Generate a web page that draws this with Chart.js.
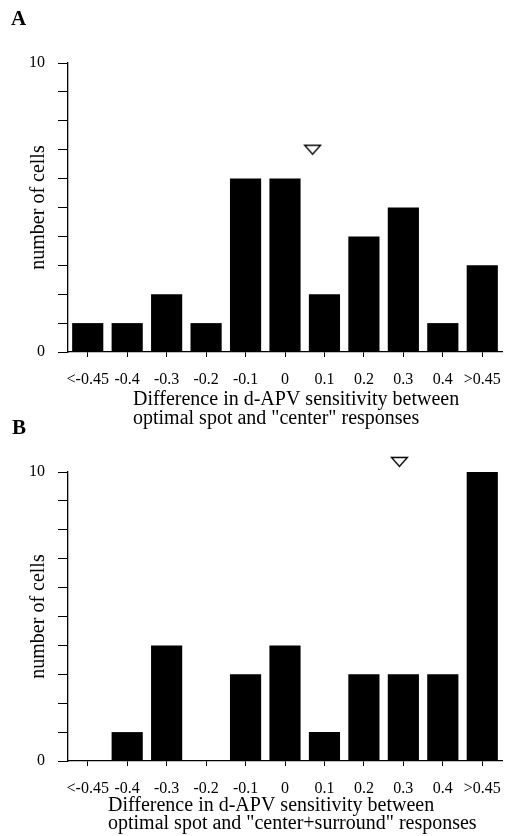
<!DOCTYPE html>
<html>
<head>
<meta charset="utf-8">
<script src="https://cdn.jsdelivr.net/npm/chart.js@4/dist/chart.umd.min.js"></script>
<style>
  html, body { margin: 0; padding: 0; background: #fff; }
  #wrap { position: relative; width: 506px; height: 836px; overflow: hidden; }
  #wrap canvas { position: absolute; left: 0; }
  #chartA { top: 0; }
  #chartB { top: 400px; }
</style>
</head>
<body>
<div id="wrap">
  <canvas id="chartA" width="506" height="430"></canvas>
  <canvas id="chartB" width="506" height="436"></canvas>
</div>
<script>
// Histogram data

const bins = ['<-0.45', '-0.4', '-0.3', '-0.2', '-0.1', '0', '0.1', '0.2', '0.3', '0.4', '>0.45'];
// where each bin sits on the sensitivity axis (open-ended bins placed one step out)
const binCenters = [-0.5, -0.4, -0.3, -0.2, -0.1, 0, 0.1, 0.2, 0.3, 0.4, 0.5];
const countsCenter = [1, 1, 2, 1, 6, 6, 2, 4, 5, 1, 3];
const countsCenterSurround = [0, 1, 4, 0, 3, 4, 1, 3, 3, 3, 10];

// mean markers (x in sensitivity units, y in cell counts)
const meanCenter = [{ x: 0.07, y: 7 }];
const meanCenterSurround = [{ x: 0.29, y: 10.35 }];

const yTickLabels = [0, 10];

const serif = '"Liberation Serif", "Times New Roman", serif';
Chart.defaults.color = '#000';
Chart.defaults.font.family = serif;

// open downward triangle used for the mean
function makeTriangle() {
  const c = document.createElement('canvas');
  c.width = 19;
  c.height = 12;
  const g = c.getContext('2d');
  g.lineWidth = 1.4;
  g.strokeStyle = '#000';
  g.fillStyle = '#fff';
  g.beginPath();
  g.moveTo(1.5, 1.5);
  g.lineTo(17.5, 1.5);
  g.lineTo(9.5, 10.5);
  g.closePath();
  g.fill();
  g.stroke();
  return c;
}
const triangle = makeTriangle();

// panel letter + two line caption below the x axis
const panelText = {
  id: 'panelText',
  afterDraw(chart, args, opts) {
    const ctx = chart.ctx;
    ctx.save();
    ctx.fillStyle = '#000';
    ctx.textAlign = 'left';
    ctx.textBaseline = 'middle';
    ctx.font = 'bold 21px ' + serif;
    ctx.fillText(opts.letter, opts.letterX, opts.letterY);
    ctx.font = '20px ' + serif;
    opts.caption.forEach((line, i) => {
      ctx.fillText(line, opts.captionX, chart.chartArea.bottom + opts.captionTop + i * opts.lineGap);
    });
    ctx.restore();
  }
};

function binLabel(v) {
  const i = binCenters.findIndex(c => Math.abs(c - v) < 1e-6);
  return i >= 0 ? bins[i] : '';
}

function renderHistogram(id, counts, mean, text, padTop, padBottom) {
  const ctx = document.getElementById(id);
  new Chart(ctx, {
    type: 'bar',
    data: {
      datasets: [
        {
          data: counts.map((c, i) => ({ x: binCenters[i], y: c })),
          backgroundColor: '#000',
          borderWidth: 0,
          grouped: false,
          barPercentage: 0.79,
          categoryPercentage: 1
        },
        {
          type: 'scatter',
          data: mean,
          pointStyle: triangle,
          pointRadius: 16,
          clip: false
        }
      ]
    },
    options: {
      responsive: false,
      animation: false,
      layout: {
        autoPadding: false,
        padding: { top: padTop, bottom: padBottom, left: 0, right: 4 }
      },
      plugins: {
        legend: { display: false },
        tooltip: { enabled: false },
        panelText: text
      },
      scales: {
        x: {
          type: 'linear',
          min: -0.55,
          max: 0.55,
          offset: false,
          afterBuildTicks: s => { s.ticks = binCenters.map(v => ({ value: v })); },
          afterFit: s => {
            s.height = 36;
            s.paddingLeft = 0;
            s.paddingRight = 0;
          },
          border: { color: '#000', width: 1.3 },
          grid: {
            offset: false,
            drawOnChartArea: false,
            tickLength: 5,
            color: '#000'
          },
          ticks: {
            padding: 13,
            maxRotation: 0,
            autoSkip: false,
            font: { size: 16 },
            callback: v => binLabel(v)
          }
        },
        y: {
          min: 0,
          max: 10,
          afterFit: s => { s.width = 68; },
          border: { color: '#000', width: 1.3 },
          grid: {
            drawOnChartArea: false,
            tickLength: 10,
            color: '#000'
          },
          ticks: {
            stepSize: 1,
            padding: 13,
            font: { size: 16 },
            callback: v => (yTickLabels.includes(v) ? String(v) : '')
          },
          title: {
            display: true,
            text: 'number of cells',
            font: { size: 20 },
            padding: { top: 27, bottom: 0 }
          }
        }
      }
    },
    plugins: [panelText]
  });
}

renderHistogram('chartA', countsCenter, meanCenter, {
  letter: 'A', letterX: 11, letterY: 20,
  caption: ['Difference in d-APV sensitivity between', 'optimal spot and "center" responses'],
  captionX: 133, captionTop: 48, lineGap: 19
}, 63, 42);

renderHistogram('chartB', countsCenterSurround, meanCenterSurround, {
  letter: 'B', letterX: 12, letterY: 29,
  caption: ['Difference in d-APV sensitivity between', 'optimal spot and "center+surround" responses'],
  captionX: 108, captionTop: 45, lineGap: 18
}, 72, 39);
</script>
</body>
</html>
